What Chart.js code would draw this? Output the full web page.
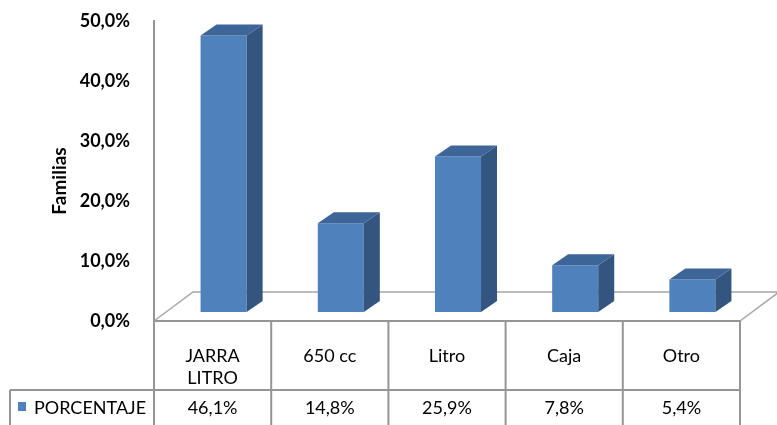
<!DOCTYPE html>
<html>
<head>
<meta charset="utf-8">
<script src="https://cdn.jsdelivr.net/npm/chart.js@4.4.0/dist/chart.umd.min.js"></script>
<style>
  html, body { margin: 0; padding: 0; background: #fff; }
  #wrap { width: 777px; height: 425px; }
</style>
</head>
<body>
<div id="wrap"><canvas id="myChart"></canvas></div>
<script>
  const categories = [['JARRA', 'LITRO'], '650 cc', 'Litro', 'Caja', 'Otro'];
  const porcentaje = [46.1, 14.8, 25.9, 7.8, 5.4];
  const yMax = 50;
  const yStep = 10;
  const seriesName = 'PORCENTAJE';
  const axisTitle = 'Familias';

  const FONT = 'Lato, "Open Sans", sans-serif';
  const fmt = v => v.toFixed(1).replace('.', ',') + '%';

  // fake 3D depth
  const BAR_DX = 16, BAR_DY = 11;     // side / top faces of each bar
  const SHIFT_X = 11, SHIFT_Y = 9;    // bars stand a bit behind the floor front edge
  const FLOOR_DX = 39, FLOOR_DY = 29; // floor depth
  const LINE = '#959595';

  const chart3d = {
    id: 'chart3d',
    beforeDatasetsDraw(chart) {
      const { ctx, chartArea: a, scales: { y } } = chart;
      const fx0 = a.left - SHIFT_X, fx1 = a.right - SHIFT_X;
      const fy = y.getPixelForValue(0) + SHIFT_Y;
      ctx.save();
      ctx.strokeStyle = '#a6a6a6';
      ctx.lineWidth = 1.5;
      ctx.beginPath();
      ctx.moveTo(fx0, fy);
      ctx.lineTo(fx0 + FLOOR_DX, fy - FLOOR_DY);
      ctx.lineTo(fx1 + FLOOR_DX, fy - FLOOR_DY);
      ctx.lineTo(fx1, fy);
      ctx.stroke();
      // value axis line
      ctx.strokeStyle = LINE;
      ctx.lineWidth = 2;
      ctx.beginPath();
      ctx.moveTo(fx0, y.getPixelForValue(yMax) + SHIFT_Y - 1);
      ctx.lineTo(fx0, fy);
      ctx.stroke();
      // axis title
      ctx.fillStyle = '#000';
      ctx.font = 'bold 19px ' + FONT;
      ctx.textAlign = 'center';
      ctx.textBaseline = 'middle';
      ctx.translate(60, 181);
      ctx.rotate(-Math.PI / 2);
      ctx.fillText(axisTitle, 0, 0);
      ctx.restore();
    },
    afterDatasetsDraw(chart) {
      const { ctx } = chart;
      ctx.save();
      chart.getDatasetMeta(0).data.forEach(bar => {
        const { x, y, base, width } = bar.getProps(['x', 'y', 'base', 'width'], true);
        const l = x - width / 2, r = x + width / 2;
        ctx.fillStyle = '#34557f';
        ctx.beginPath();
        ctx.moveTo(r, y);
        ctx.lineTo(r + BAR_DX, y - BAR_DY);
        ctx.lineTo(r + BAR_DX, base - BAR_DY);
        ctx.lineTo(r, base);
        ctx.closePath();
        ctx.fill();
        ctx.fillStyle = '#3d6598';
        ctx.beginPath();
        ctx.moveTo(l, y);
        ctx.lineTo(l + BAR_DX, y - BAR_DY);
        ctx.lineTo(r + BAR_DX, y - BAR_DY);
        ctx.lineTo(r, y);
        ctx.closePath();
        ctx.fill();
      });
      ctx.restore();
    },
    afterDraw(chart) {
      const { ctx, chartArea: a, scales: { x, y } } = chart;
      const half = (a.right - a.left) / categories.length / 2;
      const top = y.getPixelForValue(0) + SHIFT_Y;
      const rowY = 390;
      const bottom = chart.height + 2;
      const left = a.left - SHIFT_X;
      const right = a.right - SHIFT_X;
      ctx.save();
      ctx.strokeStyle = LINE;
      ctx.lineWidth = 2;
      ctx.beginPath();
      ctx.moveTo(left, top); ctx.lineTo(right, top);
      ctx.moveTo(10, rowY); ctx.lineTo(right, rowY);
      ctx.moveTo(10, rowY); ctx.lineTo(10, bottom);
      for (let i = 0; i <= categories.length; i++) {
        const cx = left + i * half * 2;
        ctx.moveTo(cx, top); ctx.lineTo(cx, bottom);
      }
      ctx.stroke();

      // legend key
      const ds = chart.data.datasets[0];
      ctx.fillStyle = ds.backgroundColor;
      ctx.fillRect(18, 402, 8, 9);
      ctx.fillStyle = '#000';
      ctx.font = '18px ' + FONT;
      ctx.textAlign = 'left';
      ctx.textBaseline = 'middle';
      ctx.fillText(ds.label, 34, 408);

      // values row
      ctx.textAlign = 'center';
      ds.data.forEach((v, i) => {
        ctx.fillText(fmt(v), x.getPixelForValue(i) - SHIFT_X, 408);
      });
      ctx.restore();
    }
  };

  const ctx = document.getElementById('myChart').getContext('2d');
  const myChart = new Chart(ctx, {
    type: 'bar',
    data: {
      labels: categories,
      datasets: [{
        label: seriesName,
        data: porcentaje,
        backgroundColor: '#4f81bd',
        borderWidth: 0,
        categoryPercentage: 1,
        barPercentage: 0.393
      }]
    },
    options: {
      responsive: true,
      maintainAspectRatio: false,
      animation: false,
      layout: { padding: { top: 12, right: 26, left: 0, bottom: 0 } },
      plugins: {
        legend: { display: false },
        tooltip: { enabled: false }
      },
      scales: {
        x: {
          grid: { display: false, drawTicks: false },
          border: { display: false },
          ticks: {
            color: '#000',
            font: { family: FONT, size: 18, lineHeight: 1.22 },
            padding: 33,
            labelOffset: -SHIFT_X,
            maxRotation: 0
          },
          afterFit: scale => {
            scale.height = 113;
            scale.paddingLeft = 0;
            scale.paddingRight = 0;
          }
        },
        y: {
          min: 0,
          max: yMax,
          grid: { display: false, drawTicks: false },
          border: { display: false },
          ticks: {
            stepSize: yStep,
            color: '#000',
            font: { family: FONT, size: 18, weight: 'bold' },
            padding: 35,
            labelOffset: SHIFT_Y,
            callback: v => fmt(v)
          },
          afterFit: scale => {
            scale.width = 165;
            scale.paddingTop = 0;
            scale.paddingBottom = 0;
          }
        }
      }
    },
    plugins: [chart3d]
  });
</script>
</body>
</html>
